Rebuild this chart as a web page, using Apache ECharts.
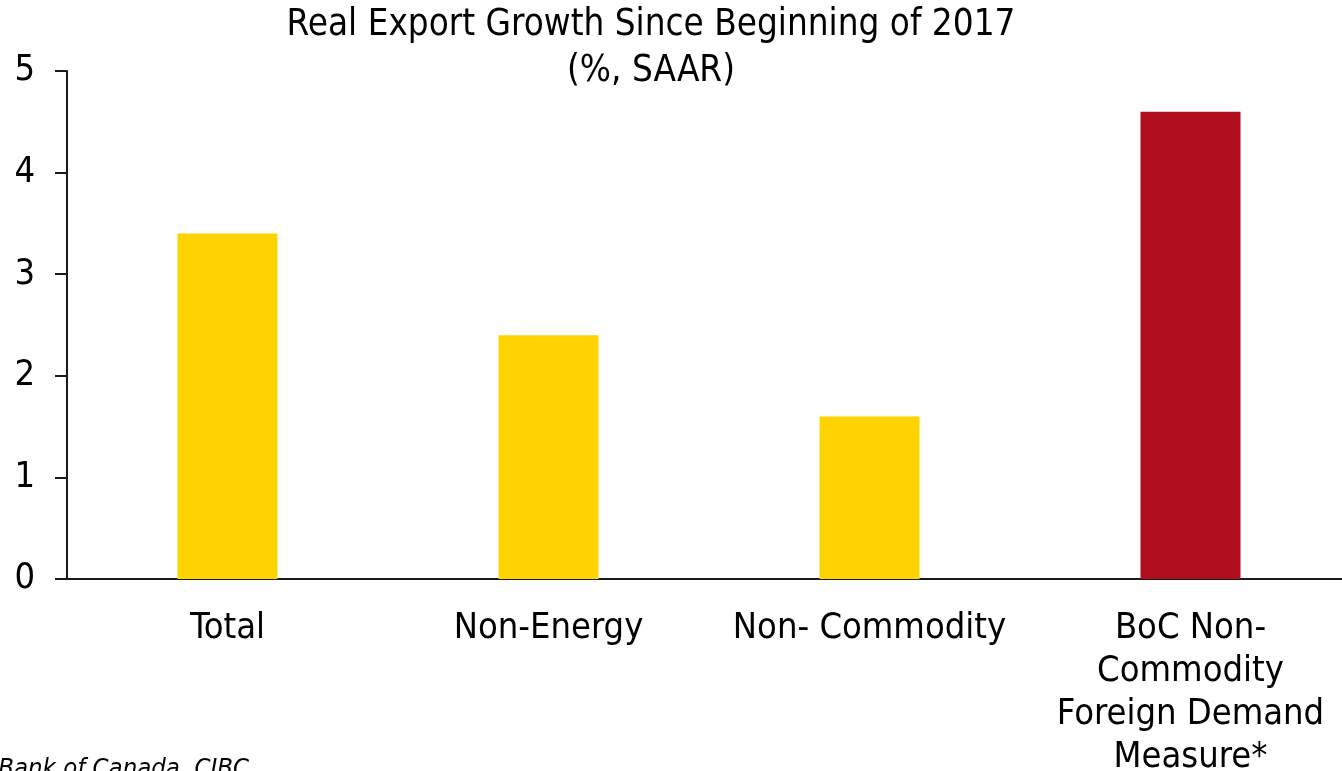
<!DOCTYPE html>
<html>
<head>
<meta charset="utf-8">
<script src="https://cdn.jsdelivr.net/npm/echarts@6/dist/echarts.min.js"></script>
<style>
  html, body { margin: 0; padding: 0; background: #fff; }
  #chart { width: 1342px; height: 771px; }
</style>
</head>
<body>
<div id="chart"></div>
<script>
// Real export growth since the beginning of 2017, % SAAR
const categories = ['Total', 'Non-Energy', 'Non- Commodity', 'BoC Non-\nCommodity\nForeign Demand\nMeasure*'];
const growthValues = [3.4, 2.4, 1.6, 4.6];
const barColors = ['#FED300', '#FED300', '#FED300', '#B10E1F'];
const yTicks = [0, 1, 2, 3, 4, 5];

const FONT = "'DejaVu Sans Condensed', 'DejaVu Sans', sans-serif";

const chart = echarts.init(document.getElementById('chart'), null, { renderer: 'canvas' });

chart.setOption({
  animation: false,
  backgroundColor: '#ffffff',
  grid: {
    left: 67, top: 71, width: 1284, height: 508,
    containLabel: false,
    outerBoundsMode: 'none'
  },
  xAxis: {
    type: 'category',
    data: categories,
    axisLine: { show: true, lineStyle: { color: '#1a1a1a', width: 2 } },
    axisTick: { show: false },
    axisLabel: {
      interval: 0,
      margin: 28,
      fontFamily: FONT,
      fontSize: 36,
      lineHeight: 43,
      color: '#000'
    }
  },
  yAxis: {
    type: 'value',
    min: yTicks[0],
    max: yTicks[yTicks.length - 1],
    interval: 1,
    axisLine: { show: true, lineStyle: { color: '#1a1a1a', width: 2 } },
    axisTick: { show: true, inside: false, length: 12, lineStyle: { color: '#1a1a1a', width: 2 } },
    splitLine: { show: false },
    axisLabel: {
      margin: 32,
      fontFamily: FONT,
      fontSize: 36,
      color: '#000'
    }
  },
  series: [{
    type: 'bar',
    data: growthValues.map((v, i) => ({ value: v, itemStyle: { color: barColors[i] } })),
    barWidth: 100
  }],
  graphic: [{
    type: 'text',
    x: 651,
    y: 3,
    style: {
      text: 'Real Export Growth Since Beginning of 2017\n(%, SAAR)',
      fontFamily: FONT,
      fontSize: 36.5,
      lineHeight: 46,
      align: 'center',
      verticalAlign: 'top',
      fill: '#000'
    }
  }, {
    type: 'text',
    right: 1342 - 249,
    top: 756,
    style: {
      text: 'Source: Bank of Canada, CIBC',
      fontFamily: FONT,
      fontSize: 25.5,
      fontStyle: 'italic',
      fill: '#000'
    }
  }]
});
</script>
</body>
</html>
